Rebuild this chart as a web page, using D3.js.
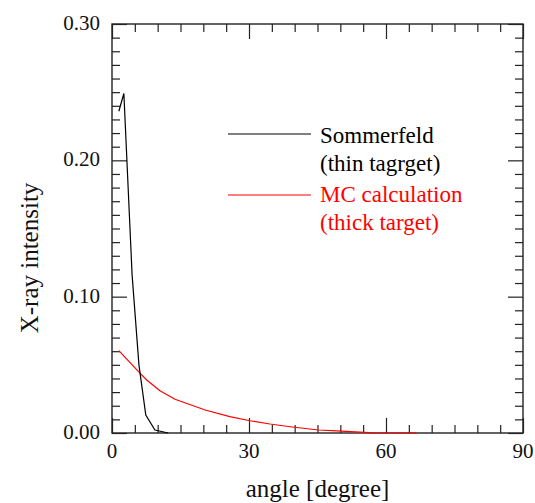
<!DOCTYPE html>
<html>
<head>
<meta charset="utf-8">
<script src="https://cdn.jsdelivr.net/npm/d3@7"></script>
<style>
  html, body { margin: 0; padding: 0; background: #fff; }
  svg { display: block; }
  svg text { font-family: "Liberation Serif", "Times New Roman", serif; }
</style>
</head>
<body>
<div id="chart"></div>
<script>
// Sommerfeld angular distribution (thin target)
const angleSommerfeld = [1.5, 2.6, 4.4, 5.9, 7.4, 9.4, 12.3];
const intensitySommerfeld = [0.236, 0.249, 0.116, 0.050, 0.0132, 0.0022, 0.0];

// Monte Carlo calculation (thick target)
const angleMC = [1.5, 5.8, 7.6, 10.5, 13.8, 20.4, 25.8, 30.2, 34.6, 39.0, 45.2, 49.2, 54.3, 58.0, 66.7];
const intensityMC = [0.0604, 0.0450, 0.0389, 0.0310, 0.0247, 0.0169, 0.0120, 0.0090, 0.0066, 0.0046, 0.0022, 0.0015, 0.0007, 0.0, 0.0];

// Axis ticks
const xMajorTicks = [0, 30, 60, 90];
const xTickLabels = ["0", "30", "60", "90"];
const yMajorTicks = [0, 0.10, 0.20, 0.30];
const yTickLabels = ["0.00", "0.10", "0.20", "0.30"];

const legendLabels = [
  ["Sommerfeld", "(thin tagrget)"],
  ["MC calculation", "(thick target)"]
];

const W = 535, H = 503;
const plot = { left: 112, top: 24, width: 411, height: 409 };
const FONT = "Liberation Serif, Times New Roman, serif";

const svg = d3.select("#chart").append("svg")
  .attr("width", W).attr("height", H);

const x = d3.scaleLinear().domain([0, 90]).range([plot.left, plot.left + plot.width]);
const y = d3.scaleLinear().domain([0, 0.30]).range([plot.top + plot.height, plot.top]);

const axisColor = "#222";
const minorLen = 8, majorLen = 15;

const xMinor = d3.range(0, 91, 5);
const yMinor = d3.range(0, 31, 1).map(d => d / 100);

const g = svg.append("g");

// Frame
g.append("rect")
  .attr("x", plot.left).attr("y", plot.top)
  .attr("width", plot.width).attr("height", plot.height)
  .attr("fill", "none").attr("stroke", axisColor).attr("stroke-width", 1.4);

// Inward ticks on all four sides
function isMajorX(d) { return xMajorTicks.some(t => Math.abs(t - d) < 1e-9); }
function isMajorY(d) { return yMajorTicks.some(t => Math.abs(t - d) < 1e-9); }

function styleAxis(sel) {
  sel.select(".domain").remove();
  sel.selectAll("line").attr("stroke", axisColor).attr("stroke-width", 1.2);
  sel.selectAll("text").remove();
}

const axBottom = g.append("g").attr("transform", `translate(0,${plot.top + plot.height})`)
  .call(d3.axisBottom(x).tickValues(xMinor).tickSize(-minorLen));
axBottom.selectAll(".tick line").attr("y2", d => isMajorX(d) ? -majorLen : -minorLen);
styleAxis(axBottom);

const axTop = g.append("g").attr("transform", `translate(0,${plot.top})`)
  .call(d3.axisTop(x).tickValues(xMinor).tickSize(-minorLen));
axTop.selectAll(".tick line").attr("y2", d => isMajorX(d) ? majorLen : minorLen);
styleAxis(axTop);

const axLeft = g.append("g").attr("transform", `translate(${plot.left},0)`)
  .call(d3.axisLeft(y).tickValues(yMinor).tickSize(-minorLen));
axLeft.selectAll(".tick line").attr("x2", d => isMajorY(d) ? majorLen : minorLen);
styleAxis(axLeft);

const axRight = g.append("g").attr("transform", `translate(${plot.left + plot.width},0)`)
  .call(d3.axisRight(y).tickValues(yMinor).tickSize(-minorLen));
axRight.selectAll(".tick line").attr("x2", d => isMajorY(d) ? -majorLen : -minorLen);
styleAxis(axRight);

// Tick labels
g.selectAll(".xlab").data(xMajorTicks).enter().append("text")
  .attr("x", d => x(d)).attr("y", plot.top + plot.height + 25)
  .attr("text-anchor", "middle").attr("font-family", FONT)
  .attr("font-size", 21).attr("fill", "#111")
  .text((d, i) => xTickLabels[i]);

g.selectAll(".ylab").data(yMajorTicks).enter().append("text")
  .attr("x", plot.left - 12).attr("y", d => y(d) + 6)
  .attr("text-anchor", "end").attr("font-family", FONT)
  .attr("font-size", 21).attr("fill", "#111")
  .text((d, i) => yTickLabels[i]);

// Axis titles
svg.append("text")
  .attr("x", plot.left + plot.width / 2).attr("y", 497)
  .attr("text-anchor", "middle").attr("font-family", FONT)
  .attr("font-size", 25).attr("fill", "#111")
  .text("angle [degree]");

svg.append("text")
  .attr("transform", `translate(38,258) rotate(-90)`)
  .attr("text-anchor", "middle").attr("font-family", FONT)
  .attr("font-size", 25).attr("fill", "#111")
  .text("X-ray intensity");

// Curves
const line = d3.line().x(d => x(d[0])).y(d => y(d[1]));

svg.append("path")
  .datum(d3.zip(angleMC, intensityMC))
  .attr("d", line).attr("fill", "none")
  .attr("stroke", "#ff0000").attr("stroke-width", 1.2);

svg.append("path")
  .datum(d3.zip(angleSommerfeld, intensitySommerfeld))
  .attr("d", line).attr("fill", "none")
  .attr("stroke", "#000").attr("stroke-width", 1.2);

// Legend
const legend = [
  { color: "#000", lineY: 134, textY: 143 },
  { color: "#ff0000", lineY: 195, textY: 202 }
];
legend.forEach((l, i) => {
  svg.append("line")
    .attr("x1", 228).attr("x2", 311).attr("y1", l.lineY).attr("y2", l.lineY)
    .attr("stroke", l.color).attr("stroke-width", 1.2);
  legendLabels[i].forEach((t, j) => {
    svg.append("text")
      .attr("x", 320).attr("y", l.textY + j * 28)
      .attr("font-family", FONT)
      .attr("font-size", 23).attr("fill", l.color)
      .text(t);
  });
});
</script>
</body>
</html>
